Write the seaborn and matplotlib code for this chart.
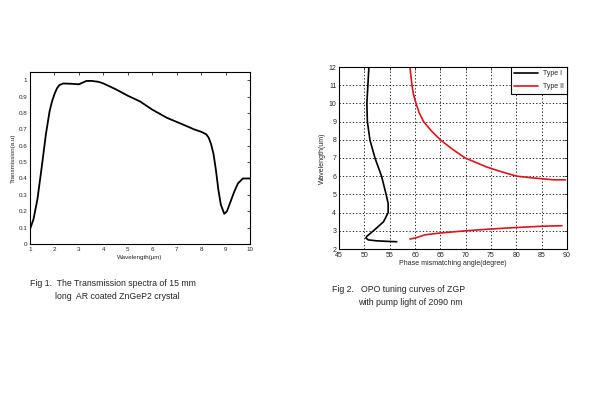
import matplotlib
matplotlib.use("Agg")
import matplotlib.pyplot as plt
import seaborn as sns

# Fig 1: transmission spectrum
wl = [1.0, 1.14, 1.3, 1.48, 1.65, 1.8, 1.9, 2.0, 2.1, 2.2, 2.36, 2.7, 3.0, 3.15, 3.3, 3.5, 3.8, 4.0,
      4.5, 5.0, 5.5, 6.0, 6.6, 7.0, 7.4, 7.7, 8.0, 8.2, 8.3, 8.4, 8.5, 8.6, 8.7, 8.8, 8.94,
      9.05, 9.2, 9.35, 9.5, 9.7, 10.0]
trans = [0.09, 0.15, 0.27, 0.47, 0.67, 0.81, 0.87, 0.915, 0.95, 0.97, 0.98, 0.978, 0.975, 0.985, 0.995, 0.996, 0.99, 0.98,
         0.945, 0.905, 0.87, 0.82, 0.77, 0.745, 0.72, 0.70, 0.685, 0.67, 0.65, 0.61, 0.55, 0.45, 0.33, 0.24, 0.184,
         0.20, 0.26, 0.32, 0.37, 0.40, 0.40]

# Fig 2: OPO tuning curves
type1_wl = [12.0, 11.0, 10.0, 9.0, 8.0, 7.0, 6.0, 5.0, 4.5, 4.0, 3.5, 3.0, 2.7, 2.6, 2.5, 2.45, 2.42, 2.4]
type1_ang = [50.9, 50.7, 50.5, 50.6, 51.1, 52.1, 53.4, 54.3, 54.7, 54.7, 53.8, 51.8, 50.5, 50.3, 50.8, 52.4, 54.5, 56.4]
type2a_wl = [12.0, 11.0, 10.5, 10.0, 9.5, 9.0, 8.5, 8.0, 7.5, 7.0, 6.5, 6.25, 6.0, 5.9, 5.85, 5.8, 5.8]
type2a_ang = [59.0, 59.4, 59.7, 60.2, 60.8, 61.7, 63.2, 65.0, 67.3, 69.9, 74.2, 77.0, 80.1, 83.4, 85.5, 87.4, 89.7]
type2b_ang = [59.0, 60.0, 62.0, 65.0, 70.0, 75.0, 80.0, 85.0, 89.0]
type2b_wl = [2.55, 2.6, 2.78, 2.88, 3.0, 3.1, 3.18, 3.25, 3.28]

sns.set_style("white", {"axes.edgecolor": "black", "xtick.direction": "in", "ytick.direction": "in"})
plt.rcParams['font.family'] = ['Liberation Sans', 'DejaVu Sans']

fig = plt.figure(figsize=(6, 4), dpi=100)
ax1 = fig.add_axes([0.05, 0.39, 0.367, 0.43])
ax2 = fig.add_axes([0.565, 0.3775, 0.38, 0.455])

sns.lineplot(x=wl, y=trans, sort=False, estimator=None, color="black", lw=1.3, ax=ax1)
ax1.set_xlim(1, 10)
ax1.set_ylim(0, 1.05)
ax1.set_xticks(range(1, 11))
ax1.set_yticks([i / 10 for i in range(11)])
ax1.set_yticklabels(["0"] + ["0.%d" % i for i in range(1, 10)] + ["1"])
ax1.set_xlabel("Wavelength(μm)", fontsize=4.5, labelpad=2)
ax1.set_ylabel("Transmission(a.u)", fontsize=4.5, labelpad=2)

sns.lineplot(x=type1_ang, y=type1_wl, sort=False, estimator=None, color="black", lw=1.2, ax=ax2, label="Type I")
sns.lineplot(x=type2a_ang, y=type2a_wl, sort=False, estimator=None, color="#e0141b", lw=1.2, ax=ax2, label="Type II")
sns.lineplot(x=type2b_ang, y=type2b_wl, sort=False, estimator=None, color="#e0141b", lw=1.2, ax=ax2)
ax2.set_xlim(45, 90)
ax2.set_ylim(2, 12)
ax2.set_xticks(range(45, 91, 5))
ax2.set_yticks(range(2, 13))
ax2.grid(True, color="black", linestyle=(0, (1.5, 2.5)), lw=0.6)
ax2.set_xlabel("Phase mismatching angle(degree)", fontsize=5, labelpad=1)
ax2.set_ylabel("Wavelength(um)", fontsize=5, labelpad=2)
leg = ax2.legend(loc="upper right", fontsize=5, frameon=True, fancybox=False,
                 borderaxespad=0, handlelength=3.5, handletextpad=0.6,
                 labelspacing=0.8, borderpad=0.5)
leg.get_frame().set_edgecolor("black")
leg.get_frame().set_linewidth(0.8)
leg.get_frame().set_alpha(1)

for ax in (ax1, ax2):
    ax.tick_params(length=2, width=0.6, top=True, right=True, pad=2)
    for s in ax.spines.values():
        s.set_linewidth(0.8)
        s.set_color("black")
ax1.tick_params(labelsize=4.5)
ax2.tick_params(labelsize=5)

fig.text(0.05, 0.29, "Fig 1.  The Transmission spectra of 15 mm", fontsize=6.3, va="center")
fig.text(0.092, 0.258, "long  AR coated ZnGeP2 crystal", fontsize=6.3, va="center")
fig.text(0.553, 0.275, "Fig 2.   OPO tuning curves of ZGP", fontsize=6.3, va="center")
fig.text(0.597, 0.243, "with pump light of 2090 nm", fontsize=6.3, va="center")

fig.savefig("out.png", dpi=100)
